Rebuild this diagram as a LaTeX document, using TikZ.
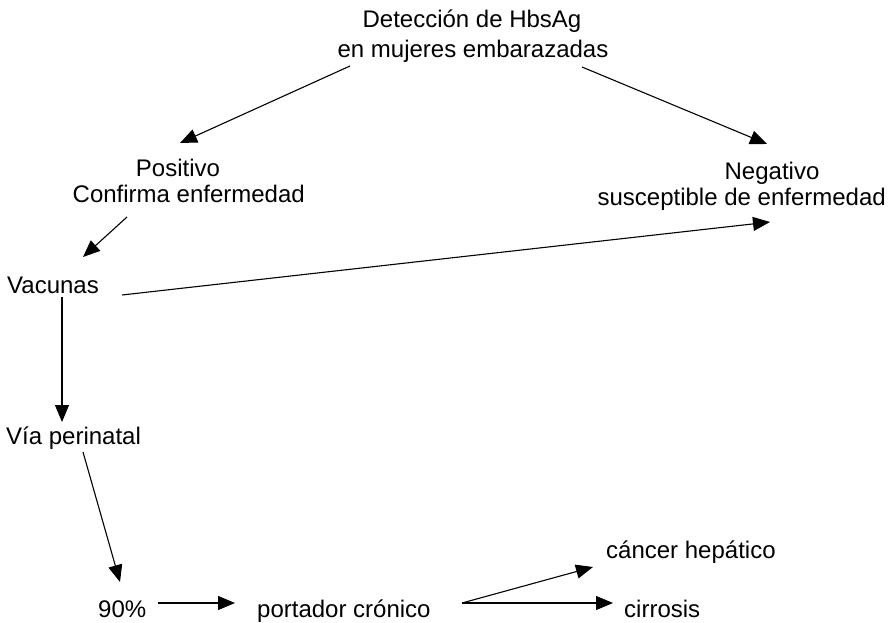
\documentclass[tikz,border=0pt]{standalone}
\usepackage{fontspec}
\setmainfont{Liberation Sans}
\usetikzlibrary{arrows.meta}
\begin{document}
\begin{tikzpicture}[x=1pt,y=-1pt,
  lbl/.style={inner sep=0pt,font=\fontsize{24}{29}\selectfont},
  arr/.style={line width=1.1pt,-{Triangle[length=17pt,width=14pt]}}]
\useasboundingbox[fill=white] (0,0) rectangle (892,623);
% texts
\node[lbl,anchor=base] (top1) at (472,28) {Detección de HbsAg};
\node[lbl,anchor=base] (top2) at (473,58) {en mujeres embarazadas};
\node[lbl,anchor=base] (pos1) at (178,177) {Positivo};
\node[lbl,anchor=base east] (pos2) at (305,203) {Confirma enfermedad};
\node[lbl,anchor=base] (neg1) at (772,180) {Negativo};
\node[lbl,anchor=base east] (neg2) at (886,205) {susceptible de enfermedad};
\node[lbl,anchor=base west] (vac) at (7,293) {Vacunas};
\node[lbl,anchor=base west] (via) at (6,444) {Vía perinatal};
\node[lbl,anchor=base west] (pct) at (98,617) {90\%};
\node[lbl,anchor=base west] (port) at (257,617) {portador crónico};
\node[lbl,anchor=base west] (canc) at (606,558) {cáncer hepático};
\node[lbl,anchor=base west] (cirr) at (624,617) {cirrosis};
% connector end points
\coordinate (a1s) at (350,66);  \coordinate (a1e) at (180,143);
\coordinate (a2s) at (582,67);  \coordinate (a2e) at (767,144);
\coordinate (a3s) at (127,217); \coordinate (a3e) at (83,257);
\coordinate (a4s) at (122,295); \coordinate (a4e) at (770,222);
\coordinate (a5s) at (62,297);  \coordinate (a5e) at (62,422);
\coordinate (a6s) at (83,452);  \coordinate (a6e) at (120,582);
\coordinate (a7s) at (158,603); \coordinate (a7e) at (235,603);
\coordinate (a8s) at (462,603); \coordinate (a8e) at (593,567);
\coordinate (a9e) at (613,603);
% connectors
\draw[arr] (a1s) -- (a1e);
\draw[arr] (a2s) -- (a2e);
\draw[arr] (a3s) -- (a3e);
\draw[arr] (a4s) -- (a4e);
\draw[arr] (a5s) -- (a5e);
\draw[arr] (a6s) -- (a6e);
\draw[arr] (a7s) -- (a7e);
\draw[arr] (a8s) -- (a8e);
\draw[arr] (a8s) -- (a9e);
\end{tikzpicture}
\end{document}
